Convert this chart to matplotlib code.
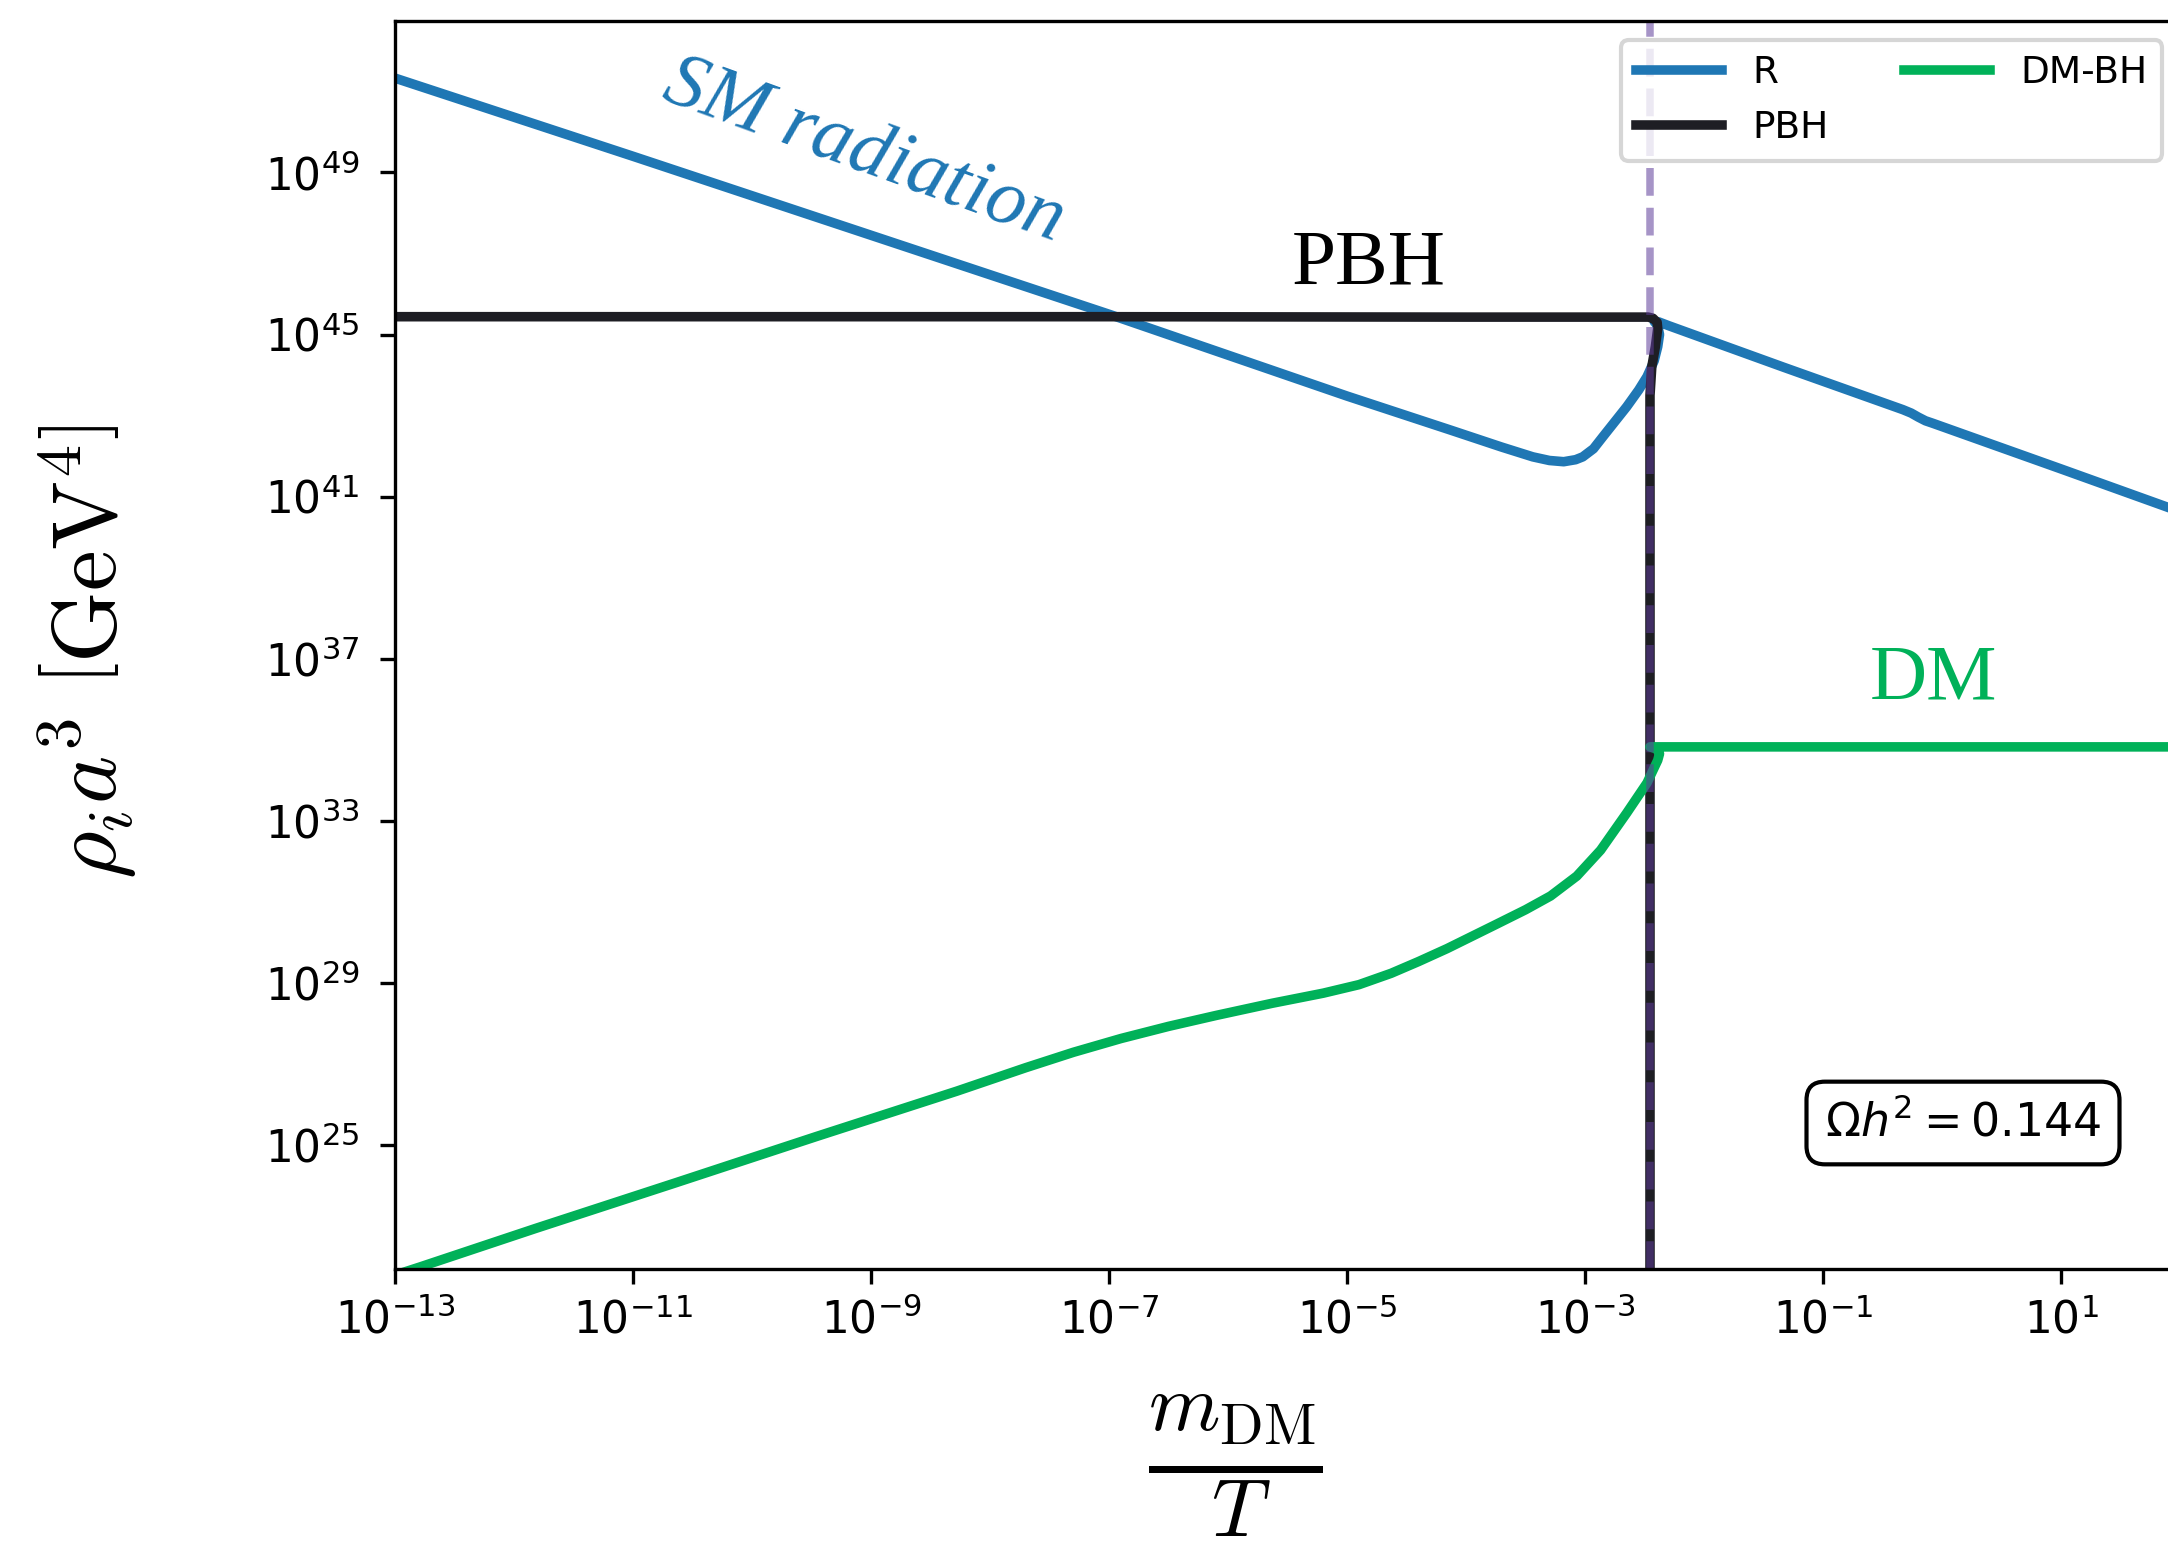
import numpy as np
import matplotlib
matplotlib.use("Agg")
import matplotlib.pyplot as plt

# ---------------- data (log10 values) ----------------
r_logx = [-13.0, -11.0, -9.0, -7.0, -5.0, -4.13, -3.7, -3.44, -3.3, -3.18, -3.08,
          -3.02, -2.93, -2.85, -2.75, -2.65, -2.55, -2.48, -2.42, -2.39, -2.375,
          -2.39, -2.42, -2.38, -2.3, -1.33, -0.33, -0.26, -0.20, -0.14, -0.08,
          0.35, 1.0, 1.9, 2.3]
r_logy = [51.33, 49.40, 47.45, 45.50, 43.48, 42.64, 42.22, 41.98, 41.89, 41.86, 41.91,
          41.98, 42.18, 42.48, 42.85, 43.22, 43.63, 43.96, 44.35, 44.70, 45.00,
          45.22, 45.32, 45.31, 45.22, 44.19, 43.145, 43.06, 42.96, 42.87, 42.81,
          42.36, 41.68, 40.73, 40.31]

pbh_logx = [-13.0, -10.0, -7.0, -4.0, -2.6, -2.47, -2.43, -2.395, -2.39, -2.41,
            -2.44, -2.455, -2.455]
pbh_logy = [45.44, 45.44, 45.44, 45.43, 45.43, 45.43, 45.40, 45.30, 45.15, 44.70,
            44.20, 43.50, 15.0]

dm_logx = [-13.0, -12.79, -11.82, -10.64, -9.46, -8.28, -7.70, -7.30, -6.90, -6.50,
           -6.10, -5.63, -5.20, -4.90, -4.63, -4.40, -4.16, -3.76, -3.50, -3.29,
           -3.07, -2.87, -2.65, -2.48, -2.39, -2.375, -2.40, -2.455, -2.40, 2.3]
dm_logy = [21.78, 21.98, 22.93, 24.06, 25.20, 26.32, 26.90, 27.28, 27.62, 27.92,
           28.19, 28.49, 28.74, 28.95, 29.23, 29.52, 29.84, 30.42, 30.80, 31.14,
           31.63, 32.27, 33.19, 33.93, 34.49, 34.65, 34.77, 34.82, 34.82, 34.82]

evap_logx = -2.455          # vertical dashed marker
omega_h2 = 0.144

xtick_exp = [-13, -11, -9, -7, -5, -3, -1, 1]
ytick_exp = [25, 29, 33, 37, 41, 45, 49]

# ---------------- figure ----------------
W, H, DPI = 2168, 1546, 300
fig = plt.figure(figsize=(W / DPI, H / DPI), dpi=DPI)

x_lo, x_hi = -13.0, 2.2
y_lo, y_hi = 21.93, 52.74
left_px, right_px, top_px, bot_px = 395, 2204, 21, 1269
ax = fig.add_axes([left_px / W, 1 - bot_px / H,
                   (right_px - left_px) / W, (bot_px - top_px) / H])

c_r = '#1f77b4'
c_pbh = '#1e1e24'
c_dm = '#00b159'
lw = 2.3

ax.plot(10 ** np.array(r_logx), 10 ** np.array(r_logy), color=c_r, lw=lw, label='R')
ax.plot(10 ** np.array(pbh_logx), 10 ** np.array(pbh_logy), color=c_pbh, lw=lw, label='PBH')
ax.plot(10 ** np.array(dm_logx), 10 ** np.array(dm_logy), color=c_dm, lw=lw, label='DM-BH')
ax.axvline(10 ** evap_logx, color='#5e3c99', alpha=0.55, ls='--', lw=1.8)

ax.set_xscale('log')
ax.set_yscale('log')
ax.set_xlim(10 ** x_lo, 10 ** x_hi)
ax.set_ylim(10 ** y_lo, 10 ** y_hi)
ax.set_xticks([10.0 ** e for e in xtick_exp])
ax.set_xticklabels([r'$\mathdefault{10^{%d}}$' % e for e in xtick_exp])
ax.set_yticks([10.0 ** e for e in ytick_exp])
ax.set_yticklabels([r'$\mathdefault{10^{%d}}$' % e for e in ytick_exp])
ax.minorticks_off()
ax.tick_params(axis='both', labelsize=10.5, length=3.5)
ax.tick_params(axis='y', pad=5)

ax.set_xlabel(r'$\frac{m_{\mathrm{DM}}}{T}$', fontsize=28, math_fontfamily='cm')
ax.xaxis.set_label_coords((1235 - left_px) / (right_px - left_px),
                          -(1392 - bot_px) / (bot_px - top_px))
ax.set_ylabel(r'$\rho_i a^3\ \left[\mathrm{GeV}^4\right]$', fontsize=22,
              math_fontfamily='cm')
ax.yaxis.set_label_coords(-(395 - 140) / (right_px - left_px),
                          (bot_px - 652) / (bot_px - top_px))

serif = ['Liberation Serif', 'DejaVu Serif']
fig.text(864 / W, 1 - 152 / H, 'SM radiation', color=c_r, fontsize=19,
         family=serif, style='italic', rotation=-20, ha='center', va='center',
         rotation_mode='anchor')
fig.text(1369 / W, 1 - 265 / H, 'PBH', color='black', fontsize=19,
         family=serif, ha='center', va='center')
fig.text(1934 / W, 1 - 680 / H, 'DM', color=c_dm, fontsize=19,
         family=serif, ha='center', va='center')

fig.text(1963 / W, 1 - 1123 / H, r'$\Omega h^2 = %.3f$' % omega_h2, fontsize=11,
         ha='center', va='center',
         bbox=dict(boxstyle='round,pad=0.4', fc='white', ec='black', lw=1.0))

ax.legend(ncol=2, fontsize=9, handlelength=2.3, loc='upper right',
          bbox_to_anchor=(2162 / W, 1 - 40 / H), bbox_transform=fig.transFigure,
          borderaxespad=0)

fig.savefig('out.png', dpi=DPI)
